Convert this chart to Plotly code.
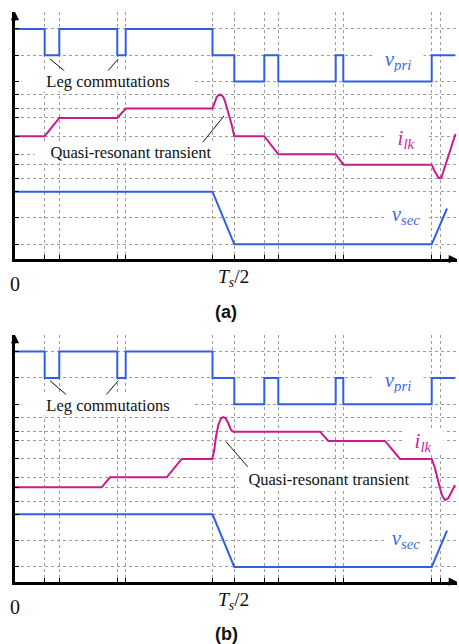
import plotly.graph_objects as go

# ---------------------------------------------------------------------------
# Data: time in units of the switching period Ts, signals in per-unit
# ---------------------------------------------------------------------------

# switching instants (x ticks and vertical grid)
t_marks = [0.0677, 0.1010, 0.2332, 0.2524, 0.4503, 0.5000,
           0.5684, 0.6003, 0.7312, 0.7485, 0.9501, 0.9690]

# primary voltage (three-level step waveform), same in both cases
t_vpri = [0, 0.0677, 0.1010, 0.2332, 0.2524, 0.4503, 0.5000,
          0.5684, 0.6003, 0.7312, 0.7485, 0.9501, 1.0032]
v_pri = [1, 0, 1, 0, 1, 0, -1, 0, -1, 0, -1, 0, 0]

# secondary voltage
t_vsec = [0, 0.4503, 0.5000, 0.9501, 0.9850]
v_sec_a = [1, 1, -1, -1, 0.36]
v_sec_b = [1, 1, -1, -1, 0.38]

# leakage-inductor current, case (a)
t_ilk_a = [0, 0.0677, 0.1010, 0.2332, 0.2524, 0.4498, 0.4521, 0.4560,
           0.4599, 0.4640, 0.4681, 0.4720, 0.4754, 0.4788, 0.4827, 0.4879,
           0.4941, 0.5000, 0.5684, 0.6003, 0.7312, 0.7485, 0.9501, 0.9553,
           0.9615, 0.9656, 0.9690, 0.9729, 0.9765, 0.9843, 0.9918, 0.9993,
           1.0043]
i_lk_a = [0, 0, 0.692, 0.692, 1.053, 1.053, 1.137, 1.350,
          1.490, 1.559, 1.578, 1.548, 1.471, 1.327, 1.099, 0.817,
          0.437, 0, 0, -0.688, -0.688, -1.084, -1.084, -1.285,
          -1.475, -1.582, -1.601, -1.551, -1.350, -0.970, -0.589, -0.209,
          0.084]

# leakage-inductor current, case (b)
t_ilk_b = [0, 0.1977, 0.2166, 0.3459, 0.3801, 0.4498, 0.4544, 0.4583,
           0.4635, 0.4697, 0.4749, 0.4804, 0.4863, 0.4925, 0.4977, 0.6954,
           0.7143, 0.8436, 0.8778, 0.9501, 0.9576, 0.9628, 0.9690, 0.9742,
           0.9804, 0.9879, 0.9957, 1.0032]
i_lk_b = [-1.080, -1.080, -0.700, -0.700, 0, 0, 0.338, 0.844,
          1.289, 1.544, 1.585, 1.544, 1.354, 1.099, 1.034, 1.034,
          0.681, 0.681, 0, 0, -0.357, -0.738, -1.118, -1.411,
          -1.563, -1.498, -1.247, -0.992]

# current levels marked by horizontal grid lines
ilk_levels_a = [1.566, 1.053, 0.692, 0, -0.688, -1.084, -1.61]
ilk_levels_b = [1.567, 1.034, 0.681, 0, -0.700, -1.080, -1.627]
volt_levels = [1, 0, -1]

# ---------------------------------------------------------------------------
# Layout geometry
# ---------------------------------------------------------------------------
W, H = 459, 644
PX_UNIT = 26.3                       # pixels per per-unit step
OFF_VPRI, OFF_ILK, OFF_VSEC = 7.75, 4.67, 1.56
X0_PX, X1_PX, TS_PX = 15, 457, 438.6
T_END = (X1_PX - X0_PX) / TS_PX

BLUE = "#2f5fe6"
BLUE_TXT = "#3b68e8"
MAGENTA = "#cc1a8c"
MAGENTA_TXT = "#d02696"
GRID = "#9c9c9c"
SERIF = "Liberation Serif, Times New Roman, serif"
SANS = "Liberation Sans, Arial, sans-serif"

# panel: (suffix, axis top px, axis bottom px, vsec, t_ilk, ilk, levels)
panels = [
    ("", 12, 259.0, v_sec_a, t_ilk_a, i_lk_a, ilk_levels_a),
    ("2", 335, 581.7, v_sec_b, t_ilk_b, i_lk_b, ilk_levels_b),
]

fig = go.Figure()
layout = dict(
    width=W, height=H, autosize=False,
    margin=dict(l=0, r=0, t=0, b=0),
    paper_bgcolor="white", plot_bgcolor="white",
    showlegend=False,
)
annotations = []
shapes = []

for suf, top_px, bot_px, vsec, t_ilk, ilk, levels in panels:
    xa, ya = "x" + suf, "y" + suf
    y_max = (bot_px - top_px) / PX_UNIT

    fig.add_trace(go.Scatter(
        x=t_vpri, y=[OFF_VPRI + v for v in v_pri], mode="lines",
        line=dict(color=BLUE, width=2, shape="hv"),
        xaxis=xa, yaxis=ya, hoverinfo="skip"))
    fig.add_trace(go.Scatter(
        x=t_ilk, y=[OFF_ILK + v for v in ilk], mode="lines",
        line=dict(color=MAGENTA, width=2),
        xaxis=xa, yaxis=ya, hoverinfo="skip"))
    fig.add_trace(go.Scatter(
        x=t_vsec, y=[OFF_VSEC + v for v in vsec], mode="lines",
        line=dict(color=BLUE, width=2),
        xaxis=xa, yaxis=ya, hoverinfo="skip"))

    yvals = ([OFF_VPRI + v for v in volt_levels]
             + [OFF_ILK + v for v in levels]
             + [OFF_VSEC + v for v in volt_levels])

    layout["xaxis" + suf] = dict(
        domain=[X0_PX / W, X1_PX / W], range=[0, T_END], anchor=ya,
        tickvals=t_marks, ticks="inside", ticklen=4, tickwidth=1,
        tickcolor="black", showticklabels=False,
        showgrid=True, gridcolor=GRID, griddash="dot", gridwidth=1,
        showline=True, linecolor="black", linewidth=2.5, zeroline=False,
        fixedrange=True)
    layout["yaxis" + suf] = dict(
        domain=[1 - bot_px / H, 1 - top_px / H], range=[0, y_max],
        anchor=xa, tickvals=yvals, ticks="inside", ticklen=4, tickwidth=1,
        tickcolor="black", showticklabels=False,
        showgrid=True, gridcolor=GRID, griddash="dot", gridwidth=1,
        showline=True, linecolor="black", linewidth=2.5, zeroline=False,
        fixedrange=True)

    # axis arrowheads
    annotations.append(dict(
        x=0, y=y_max, xref=xa, yref=ya, ax=0, ay=10, text="",
        showarrow=True, arrowhead=2, arrowsize=1.1, arrowwidth=1.5,
        arrowcolor="black"))
    annotations.append(dict(
        x=T_END, y=0, xref=xa, yref=ya, ax=-10, ay=0, text="",
        showarrow=True, arrowhead=2, arrowsize=1.1, arrowwidth=1.5,
        arrowcolor="black"))

# signal labels, with white boxes that break the grid behind them
def label(text, x, y, ref, color, size, w, h):
    annotations.append(dict(
        text=text, x=x, y=y, xref="x" + ref, yref="y" + ref,
        showarrow=False, font=dict(family=SERIF, size=size, color=color),
        bgcolor="white", width=w, height=h, borderpad=0,
        xanchor="center", yanchor="middle"))

for ref, yp, yi, ti, ys in [("", 7.567, 4.563, 0.8915, 1.673),
                            ("2", 7.631, 5.312, 0.930, 1.624)]:
    label("<i>v</i><sub><i>pri</i></sub>", 0.873, yp, ref, BLUE_TXT, 21, 50, 24)
    label("<i>i</i><sub><i>lk</i></sub>", ti, yi, ref, MAGENTA_TXT, 21, 40, 22)
    label("<i>v</i><sub><i>sec</i></sub>", 0.8915, ys, ref, BLUE_TXT, 21, 42, 22)

# annotation texts
label("Leg commutations", 0.212, 6.77, "", "#111", 16.5, 172, 20)
label("Leg commutations", 0.212, 6.72, "2", "#111", 16.5, 172, 20)
label("Quasi-resonant transient", 0.2656, 4.068, "", "#111", 16.5, 192, 19)
label("Quasi-resonant transient", 0.716, 3.905, "2", "#111", 16.5, 180, 18)

# leader lines
leaders = [
    ("", 0.0798, 7.605, 0.1186, 7.072), ("", 0.2075, 7.072, 0.2355, 7.605),
    ("", 0.4286, 4.449, 0.4765, 5.437),
    ("2", 0.0798, 7.643, 0.1179, 7.099), ("2", 0.2075, 7.099, 0.2355, 7.643),
    ("2", 0.4811, 5.323, 0.5306, 4.373),
]
for ref, xa0, ya0, xa1, ya1 in leaders:
    shapes.append(dict(type="line", xref="x" + ref, yref="y" + ref,
                       x0=xa0, y0=ya0, x1=xa1, y1=ya1,
                       line=dict(color="#111", width=1)))

# time labels and panel captions
for y_zero, y_ts, y_cap, cap in [(283.5, 278, 311.5, "(a)"),
                                  (606.5, 601, 634, "(b)")]:
    annotations.append(dict(
        text="0", x=X0_PX / W, y=1 - y_zero / H, xref="paper", yref="paper",
        showarrow=False, font=dict(family=SERIF, size=20, color="#111"),
        xanchor="center", yanchor="middle"))
    annotations.append(dict(
        text="<i>T</i><sub><i>s</i></sub>/2", x=234 / W, y=1 - y_ts / H,
        xref="paper", yref="paper", showarrow=False,
        font=dict(family=SERIF, size=19.5, color="#111"),
        xanchor="center", yanchor="middle"))
    annotations.append(dict(
        text="<b>" + cap + "</b>", x=226 / W, y=1 - y_cap / H,
        xref="paper", yref="paper", showarrow=False,
        font=dict(family=SANS, size=18, color="#111"),
        xanchor="center", yanchor="middle"))

layout["annotations"] = annotations
layout["shapes"] = shapes
fig.update_layout(**layout)

fig.write_html("out.html", config={"displayModeBar": False})
